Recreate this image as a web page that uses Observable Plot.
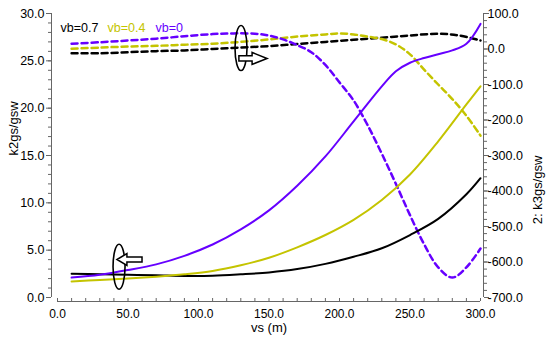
<!DOCTYPE html>
<html><head><meta charset="utf-8">
<script src="https://cdn.jsdelivr.net/npm/d3@7"></script>
<script src="https://cdn.jsdelivr.net/npm/@observablehq/plot@0.6"></script>
<style>
body{margin:0;background:#fff}
svg{font-family:"Liberation Sans",Arial,Helvetica,sans-serif}
</style>
</head><body><div id="chart"></div>
<script>
// ---- data (left axis: k2gs/gsw, solid) ----
const vsSolid07 = [10,30,50,70,90,110,130,150,170,190,210,230,250,270,290,300];
const k2_07     = [2.5,2.45,2.4,2.35,2.28,2.3,2.45,2.65,3.0,3.55,4.3,5.2,6.6,8.3,10.9,12.6];
const vsSolid04 = [10,30,50,70,90,110,130,150,170,190,210,230,250,270,290,300];
const k2_04     = [1.7,1.85,2.0,2.2,2.45,2.8,3.4,4.2,5.3,6.6,8.2,10.3,13.0,16.5,20.4,22.3];
const vsSolid0  = [10,30,50,70,90,110,130,150,170,190,210,230,240,250,260,270,280,290,300];
const k2_0      = [2.1,2.4,2.9,3.5,4.4,5.6,7.2,9.2,11.8,14.9,18.6,22.3,23.9,24.8,25.3,25.7,26.1,26.8,28.9];
// ---- data (right axis: 2: k3gs/gsw, dashed) ----
const vsDash07 = [10,30,50,70,90,110,130,150,170,190,210,230,250,270,285,300];
const k3_07    = [-12,-12,-9,-6,-4,0,4,8,14,20,26,32,38,43,38,24];
const vsDash04 = [10,30,50,70,90,110,130,150,170,190,200,210,220,230,240,250,260,270,280,290,300];
const k3_04    = [1,4,7,9,12,15,20,27,35,41,44,41,35,28,13,-15,-58,-100,-141,-188,-244];
const vsDash0  = [10,30,50,70,90,110,125,140,150,160,170,180,190,200,210,220,230,240,250,260,270,280,290,300];
const k3_0     = [15,19,24,29,36,42,44,43,38,27,11,-9,-45,-94,-145,-215,-295,-380,-468,-550,-615,-644,-615,-562];
// ---- ticks / labels ----
const xMajor = [0,50,100,150,200,250,300];
const xMinor = d3.range(0,301,10);
const leftMajor = [0,5,10,15,20,25,30];
const leftMinor = d3.range(0,31,1);
const rightMajor = d3.range(-700,101,100);
const rightMinor = d3.range(-700,101,20);
const legendLabels = ["vb=0.7","vb=0.4","vb=0"];
const colors = ["#000000","#c4c400","#6600ff"];
const xTitle = "vs (m)", yTitle = "k2gs/gsw", y2Title = "2: k3gs/gsw";

// right axis mapped into left-axis units
const toLeft = v => (v + 700) * 30 / 800;
const fromLeft = d => d * 800 / 30 - 700;

const pts = (xs, ys, conv = d => d) => xs.map((x, i) => ({x, y: conv(ys[i])}));
const solid = [pts(vsSolid07,k2_07), pts(vsSolid04,k2_04), pts(vsSolid0,k2_0)];
const dashed = [pts(vsDash07,k3_07,toLeft), pts(vsDash04,k3_04,toLeft), pts(vsDash0,k3_0,toLeft)];

const axisColor = "#666";
const marks = [
  // axis lines
  Plot.ruleX([0], {y1: 0, y2: 30, dx: -6, stroke: axisColor}),
  Plot.ruleX([300], {y1: 0, y2: 30, dx: 3, stroke: axisColor}),
  Plot.ruleY([0], {x1: 0, x2: 300, dy: 4, stroke: axisColor}),
  // left ticks
  Plot.axisY({ticks: leftMinor, tickSize: 3, dx: -6, tickFormat: () => "", stroke: axisColor, label: null}),
  Plot.axisY({ticks: leftMajor, tickSize: 5, dx: -6, tickFormat: () => "", stroke: axisColor, label: null}),
  Plot.axisY({ticks: leftMajor, tickSize: 0, tickPadding: 13, tickFormat: d => d.toFixed(1), fill: "#000", fontSize: 12.5, label: null}),
  // right ticks
  Plot.axisY({anchor: "right", ticks: rightMinor.map(toLeft), tickSize: 3, dx: 3, tickFormat: () => "", stroke: axisColor, label: null}),
  Plot.axisY({anchor: "right", ticks: rightMajor.map(toLeft), tickSize: 5, dx: 3, tickFormat: () => "", stroke: axisColor, label: null}),
  Plot.axisY({anchor: "right", ticks: rightMajor.map(toLeft), tickSize: 0, tickPadding: 7, tickFormat: d => fromLeft(d).toFixed(1), fill: "#000", fontSize: 12.5, label: null}),
  // x ticks
  Plot.axisX({ticks: xMinor, tickSize: 3, dy: 1, tickFormat: () => "", stroke: axisColor, label: null}),
  Plot.axisX({ticks: xMajor, tickSize: 0, tickPadding: 12, tickFormat: d => d.toFixed(1), fill: "#000", fontSize: 12, label: null}),
  // titles
  Plot.text([yTitle], {text: d => d, frameAnchor: "left", dx: -44, rotate: -90, fontSize: 13, fill: "#000"}),
  Plot.text([y2Title], {text: d => d, frameAnchor: "right", dx: 57, rotate: -90, fontSize: 13, fill: "#000"}),
  Plot.text([xTitle], {text: d => d, frameAnchor: "bottom", dy: 34, fontSize: 13, fill: "#000"}),
  // legend
  ...legendLabels.map((t, i) => Plot.text([t], {text: d => d, frameAnchor: "top-left", dx: [3,50,98][i], dy: 10, textAnchor: "start", fontSize: 12.5, fill: colors[i]})),
  // series
  ...dashed.map((d, i) => Plot.line(d, {x: "x", y: "y", stroke: colors[i], strokeWidth: 2.5, strokeDasharray: "6,4", curve: "catmull-rom"})),
  ...solid.map((d, i) => Plot.line(d, {x: "x", y: "y", stroke: colors[i], strokeWidth: 2, curve: "catmull-rom"}))
];

const chart = Plot.plot({
  width: 550, height: 342,
  marginLeft: 57, marginRight: 70, marginTop: 13, marginBottom: 45,
  x: {domain: [0, 300], label: null},
  y: {domain: [0, 30], label: null},
  style: {background: "#fff", fontFamily: "'Liberation Sans', Arial, sans-serif", color: "#000"},
  marks
});
document.getElementById("chart").appendChild(chart);

// ---- annotations (ellipses + block arrows) in data units ----
const ellipses = [{x: 130.5, y: 26.3}, {x: 44, y: 3.2}];
const arrows = [{from: 129, to: 149, y: 25.2}, {from: 60.3, to: 42.5, y: 3.96}];
const sx = chart.scale("x"), sy = chart.scale("y");
const svg = d3.select(chart);
const g = svg.append("g");
ellipses.forEach(e => {
  g.append("ellipse").attr("cx", sx.apply(e.x)).attr("cy", sy.apply(e.y))
    .attr("rx", 6).attr("ry", 22.5).attr("fill", "none").attr("stroke", "#000").attr("stroke-width", 1.6);
});
arrows.forEach((a, i) => {
  const x0 = sx.apply(a.from), x1 = sx.apply(a.to), y = sy.apply(a.y);
  const dir = Math.sign(x1 - x0);
  const hl = i === 0 ? 15 : 10, sw = 2.6, hw = 6;
  const xb = x1 - dir * hl;
  const p = [[x0, y - sw], [xb, y - sw], [xb, y - hw], [x1, y], [xb, y + hw], [xb, y + sw], [x0, y + sw]];
  g.append("path").attr("d", "M" + p.map(q => q.join(",")).join("L") + "Z")
    .attr("fill", "#fff").attr("stroke", "#000").attr("stroke-width", 1.5).attr("stroke-linejoin", "miter");
});
</script>
</body></html>
